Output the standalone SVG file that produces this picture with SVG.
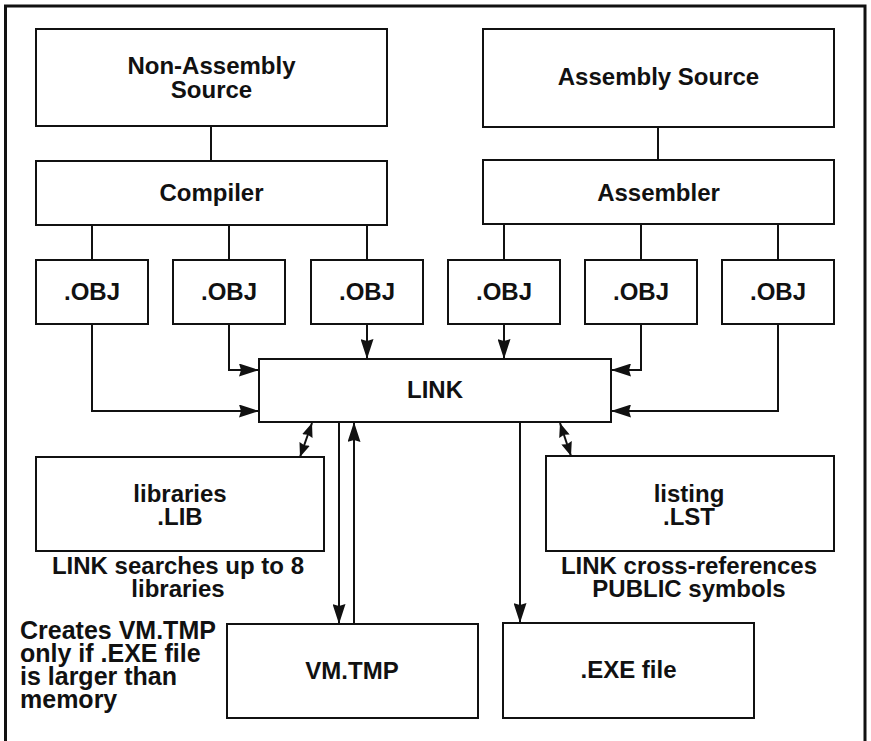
<svg xmlns="http://www.w3.org/2000/svg" width="871" height="741" viewBox="0 0 871 741">
  <style>
    .box { fill: #fff; stroke: #111; stroke-width: 2; }
    .lbl { font-family: "Liberation Sans", Arial, sans-serif; font-weight: bold; font-size: 24px; fill: #111; text-anchor: middle; }
    .note { font-family: "Liberation Sans", Arial, sans-serif; font-weight: bold; font-size: 25px; fill: #111; }
    .wire { fill: none; stroke: #111; stroke-width: 2; }
    .arr { marker-end: url(#head); }
    .dbl { marker-start: url(#small); marker-end: url(#small); }
  </style>
  <defs>
    <marker id="head" viewBox="0 0 20 13" refX="20" refY="6.5" markerWidth="20" markerHeight="13" markerUnits="userSpaceOnUse" orient="auto-start-reverse">
      <path d="M0,0 L20,6.5 L0,13 L2,6.5 z" fill="#111"/>
    </marker>
    <marker id="small" viewBox="0 0 14 11" refX="14" refY="5.5" markerWidth="14" markerHeight="11" markerUnits="userSpaceOnUse" orient="auto-start-reverse">
      <path d="M0,0 L14,5.5 L0,11 L1.5,5.5 z" fill="#111"/>
    </marker>
  </defs>

  <rect width="871" height="741" fill="#fff"/>
  <!-- frame (bottom edge runs off the page) -->
  <path d="M5.5,745 V6 H865 V745" fill="none" stroke="#111" stroke-width="3"/>

  <g id="connectors">
    <line class="wire" x1="211" y1="126" x2="211" y2="161"/>
    <line class="wire" x1="658" y1="126" x2="658" y2="161"/>
    <!-- compiler / assembler to object files -->
    <line class="wire" x1="92" y1="225" x2="92" y2="260"/>
    <line class="wire" x1="229" y1="225" x2="229" y2="260"/>
    <line class="wire" x1="367" y1="225" x2="367" y2="260"/>
    <line class="wire" x1="504" y1="224" x2="504" y2="260"/>
    <line class="wire" x1="641" y1="224" x2="641" y2="260"/>
    <line class="wire" x1="778" y1="224" x2="778" y2="260"/>
    <!-- object files into LINK -->
    <path class="wire arr" d="M92,324 V411 H259"/>
    <path class="wire arr" d="M229,324 V370 H259"/>
    <path class="wire arr" d="M367,324 V359"/>
    <path class="wire arr" d="M504,324 V359"/>
    <path class="wire arr" d="M641,324 V370 H611"/>
    <path class="wire arr" d="M778,324 V411 H611"/>
    <!-- LINK outputs -->
    <line class="wire dbl" x1="312" y1="423" x2="300" y2="457"/>
    <line class="wire dbl" x1="560" y1="423" x2="571" y2="456"/>
    <line class="wire arr" x1="339" y1="422" x2="339" y2="624"/>
    <line class="wire arr" x1="354" y1="624" x2="354" y2="422"/>
    <line class="wire arr" x1="520" y1="422" x2="520" y2="623"/>
  </g>

  <g id="non-assembly-source">
    <rect class="box" x="36" y="29" width="351" height="97"/>
    <text class="lbl" x="211.5" y="74">Non-Assembly</text>
    <text class="lbl" x="211.5" y="98">Source</text>
  </g>
  <g id="assembly-source">
    <rect class="box" x="483" y="29" width="351" height="98"/>
    <text class="lbl" x="658.5" y="85">Assembly Source</text>
  </g>
  <g id="compiler">
    <rect class="box" x="36" y="161" width="351" height="64"/>
    <text class="lbl" x="211.5" y="201">Compiler</text>
  </g>
  <g id="assembler">
    <rect class="box" x="483" y="160" width="351" height="64"/>
    <text class="lbl" x="658.5" y="201">Assembler</text>
  </g>

  <g id="obj1"><rect class="box" x="36" y="260" width="112" height="64"/><text class="lbl" x="92" y="300">.OBJ</text></g>
  <g id="obj2"><rect class="box" x="173" y="260" width="112" height="64"/><text class="lbl" x="229" y="300">.OBJ</text></g>
  <g id="obj3"><rect class="box" x="311" y="260" width="112" height="64"/><text class="lbl" x="367" y="300">.OBJ</text></g>
  <g id="obj4"><rect class="box" x="448" y="260" width="112" height="64"/><text class="lbl" x="504" y="300">.OBJ</text></g>
  <g id="obj5"><rect class="box" x="585" y="260" width="112" height="64"/><text class="lbl" x="641" y="300">.OBJ</text></g>
  <g id="obj6"><rect class="box" x="722" y="260" width="112" height="64"/><text class="lbl" x="778" y="300">.OBJ</text></g>

  <g id="link">
    <rect class="box" x="259" y="359" width="352" height="63"/>
    <text class="lbl" x="435" y="398">LINK</text>
  </g>

  <g id="libraries">
    <rect class="box" x="36" y="457" width="288" height="94"/>
    <text class="lbl" x="180" y="502">libraries</text>
    <text class="lbl" x="180" y="525">.LIB</text>
    <text class="lbl" x="178" y="574">LINK searches up to 8</text>
    <text class="lbl" x="178" y="597">libraries</text>
  </g>

  <g id="listing">
    <rect class="box" x="546" y="456" width="288" height="95"/>
    <text class="lbl" x="689" y="502">listing</text>
    <text class="lbl" x="689" y="525">.LST</text>
    <text class="lbl" x="689" y="574">LINK cross-references</text>
    <text class="lbl" x="689" y="597">PUBLIC symbols</text>
  </g>

  <g id="vm-tmp">
    <rect class="box" x="227" y="624" width="251" height="94"/>
    <text class="lbl" x="352" y="679">VM.TMP</text>
  </g>

  <g id="exe-file">
    <rect class="box" x="503" y="623" width="251" height="95"/>
    <text class="lbl" x="628.5" y="678">.EXE file</text>
  </g>

  <g id="vm-note">
    <text class="note" x="20" y="639">Creates VM.TMP</text>
    <text class="note" x="20" y="662">only if .EXE file</text>
    <text class="note" x="20" y="685">is larger than</text>
    <text class="note" x="20" y="708">memory</text>
  </g>
</svg>
